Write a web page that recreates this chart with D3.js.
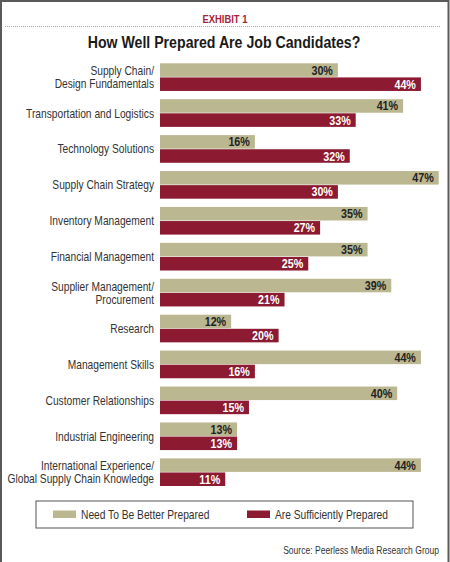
<!DOCTYPE html>
<html>
<head>
<meta charset="utf-8">
<script src="https://cdn.jsdelivr.net/npm/d3@7"></script>
<style>
  body { margin: 0; background: #fff; }
  svg { display: block; }
  text { font-family: "Liberation Sans", Arial, sans-serif; }
</style>
</head>
<body>
<div id="chart"></div>
<script>
var categories = [
  "Supply Chain/\nDesign Fundamentals",
  "Transportation and Logistics",
  "Technology Solutions",
  "Supply Chain Strategy",
  "Inventory Management",
  "Financial Management",
  "Supplier Management/\nProcurement",
  "Research",
  "Management Skills",
  "Customer Relationships",
  "Industrial Engineering",
  "International Experience/\nGlobal Supply Chain Knowledge"
];
var needBetter = [30, 41, 16, 47, 35, 35, 39, 12, 44, 40, 13, 44];
var sufficient = [44, 33, 32, 30, 27, 25, 21, 20, 16, 15, 13, 11];
var seriesNames = ["Need To Be Better Prepared", "Are Sufficiently Prepared"];
var colors = ["#bbb791", "#8c1a30"];

var width = 450, height = 562;

var svg = d3.select("#chart").append("svg")
    .attr("width", width)
    .attr("height", height);

// the original uses a condensed gothic face; squeeze Liberation Sans to match widths
function squeezeFactor(str, size, weight, target) {
    var t = svg.append("text").attr("font-size", size).attr("font-weight", weight).text(str);
    var w = t.node().getComputedTextLength();
    t.remove();
    return target / w;
}
var fLabel = squeezeFactor("Transportation and Logistics", "13px", "normal", 128);
var fTitle = squeezeFactor("How Well Prepared Are Job Candidates?", "17px", "bold", 273);
var fVal = squeezeFactor("30%", "12.5px", "bold", 21.5);
var fLeg = squeezeFactor("Need To Be Better Prepared", "13px", "normal", 128.5);
var fSrc = squeezeFactor("Source: Peerless Media Research Group", "11px", "normal", 156);
var fEx = squeezeFactor("EXHIBIT 1", "11px", "bold", 45);

function place(x, y, f) { return "translate(" + x + "," + y + ") scale(" + f + ",1)"; }

// frame: top, left and right edges only
svg.append("path")
    .attr("d", "M1,562V1H448.5V562")
    .attr("fill", "none")
    .attr("stroke", "#5a5a5a")
    .attr("stroke-width", 2);

svg.append("text")
    .attr("transform", place(225, 22.5, fEx))
    .attr("text-anchor", "middle")
    .attr("fill", "#a5243a")
    .attr("font-weight", "bold")
    .attr("font-size", "11px")
    .text("EXHIBIT 1");

svg.append("line")
    .attr("x1", 5).attr("x2", 440)
    .attr("y1", 26.5).attr("y2", 26.5)
    .attr("stroke", "#aaa")
    .attr("stroke-dasharray", "1,1");

svg.append("text")
    .attr("transform", place(224, 48, fTitle))
    .attr("text-anchor", "middle")
    .attr("fill", "#1a1a1a")
    .attr("font-weight", "bold")
    .attr("font-size", "17px")
    .text("How Well Prepared Are Job Candidates?");

var x = d3.scaleLinear().domain([0, 47]).range([160, 160 + 5.93 * 47]);
var y = d3.scaleBand().domain(categories).range([63.3, 486]).paddingInner(0.23).paddingOuter(0);
var ySub = d3.scaleBand().domain([0, 1]).range([0, y.bandwidth()]).paddingInner(0.04);

var rows = categories.map(function(c, i) {
    return {cat: c, values: [needBetter[i], sufficient[i]]};
});

var g = svg.selectAll(".row")
    .data(rows)
    .enter().append("g")
    .attr("class", "row")
    .attr("transform", function(d) { return "translate(0," + y(d.cat) + ")"; });

g.selectAll("rect")
    .data(function(d) { return d.values; })
    .enter().append("rect")
    .attr("x", x(0))
    .attr("y", function(d, j) { return ySub(j); })
    .attr("width", function(d) { return x(d) - x(0); })
    .attr("height", ySub.bandwidth())
    .attr("fill", function(d, j) { return colors[j]; });

g.selectAll(".val")
    .data(function(d) { return d.values; })
    .enter().append("text")
    .attr("class", "val")
    .attr("transform", function(d, j) {
        return place(x(d) - 5, ySub(j) + ySub.bandwidth() / 2 + 4.5, fVal);
    })
    .attr("text-anchor", "end")
    .attr("font-weight", "bold")
    .attr("font-size", "12.5px")
    .attr("fill", function(d, j) { return j === 0 ? "#222" : "#fff"; })
    .text(function(d) { return d + "%"; });

// category labels
g.append("text")
    .attr("text-anchor", "end")
    .attr("font-size", "13px")
    .attr("fill", "#333")
    .attr("transform", place(154, y.bandwidth() / 2 + 4.5, fLabel))
    .each(function(d) {
        var lines = d.cat.split("\n");
        var t = d3.select(this);
        lines.forEach(function(l, k) {
            t.append("tspan")
                .attr("x", 0)
                .attr("y", (k - (lines.length - 1) / 2) * 13)
                .text(l);
        });
    });

// legend
svg.append("rect")
    .attr("x", 36).attr("y", 501)
    .attr("width", 377).attr("height", 27)
    .attr("fill", "none")
    .attr("stroke", "#555")
    .attr("stroke-width", 1);

var legX = [53, 247];
var leg = svg.selectAll(".leg")
    .data(seriesNames)
    .enter().append("g")
    .attr("class", "leg")
    .attr("transform", function(d, i) { return "translate(" + legX[i] + ",510.5)"; });

leg.append("rect")
    .attr("width", 23).attr("height", 7.5)
    .attr("fill", function(d, i) { return colors[i]; });

leg.append("text")
    .attr("transform", place(28, 8.5, fLeg))
    .attr("font-size", "13px")
    .attr("fill", "#333")
    .text(function(d) { return d; });

svg.append("text")
    .attr("transform", place(439, 553.5, fSrc))
    .attr("text-anchor", "end")
    .attr("font-size", "11px")
    .attr("fill", "#333")
    .text("Source: Peerless Media Research Group");
</script>
</body>
</html>
